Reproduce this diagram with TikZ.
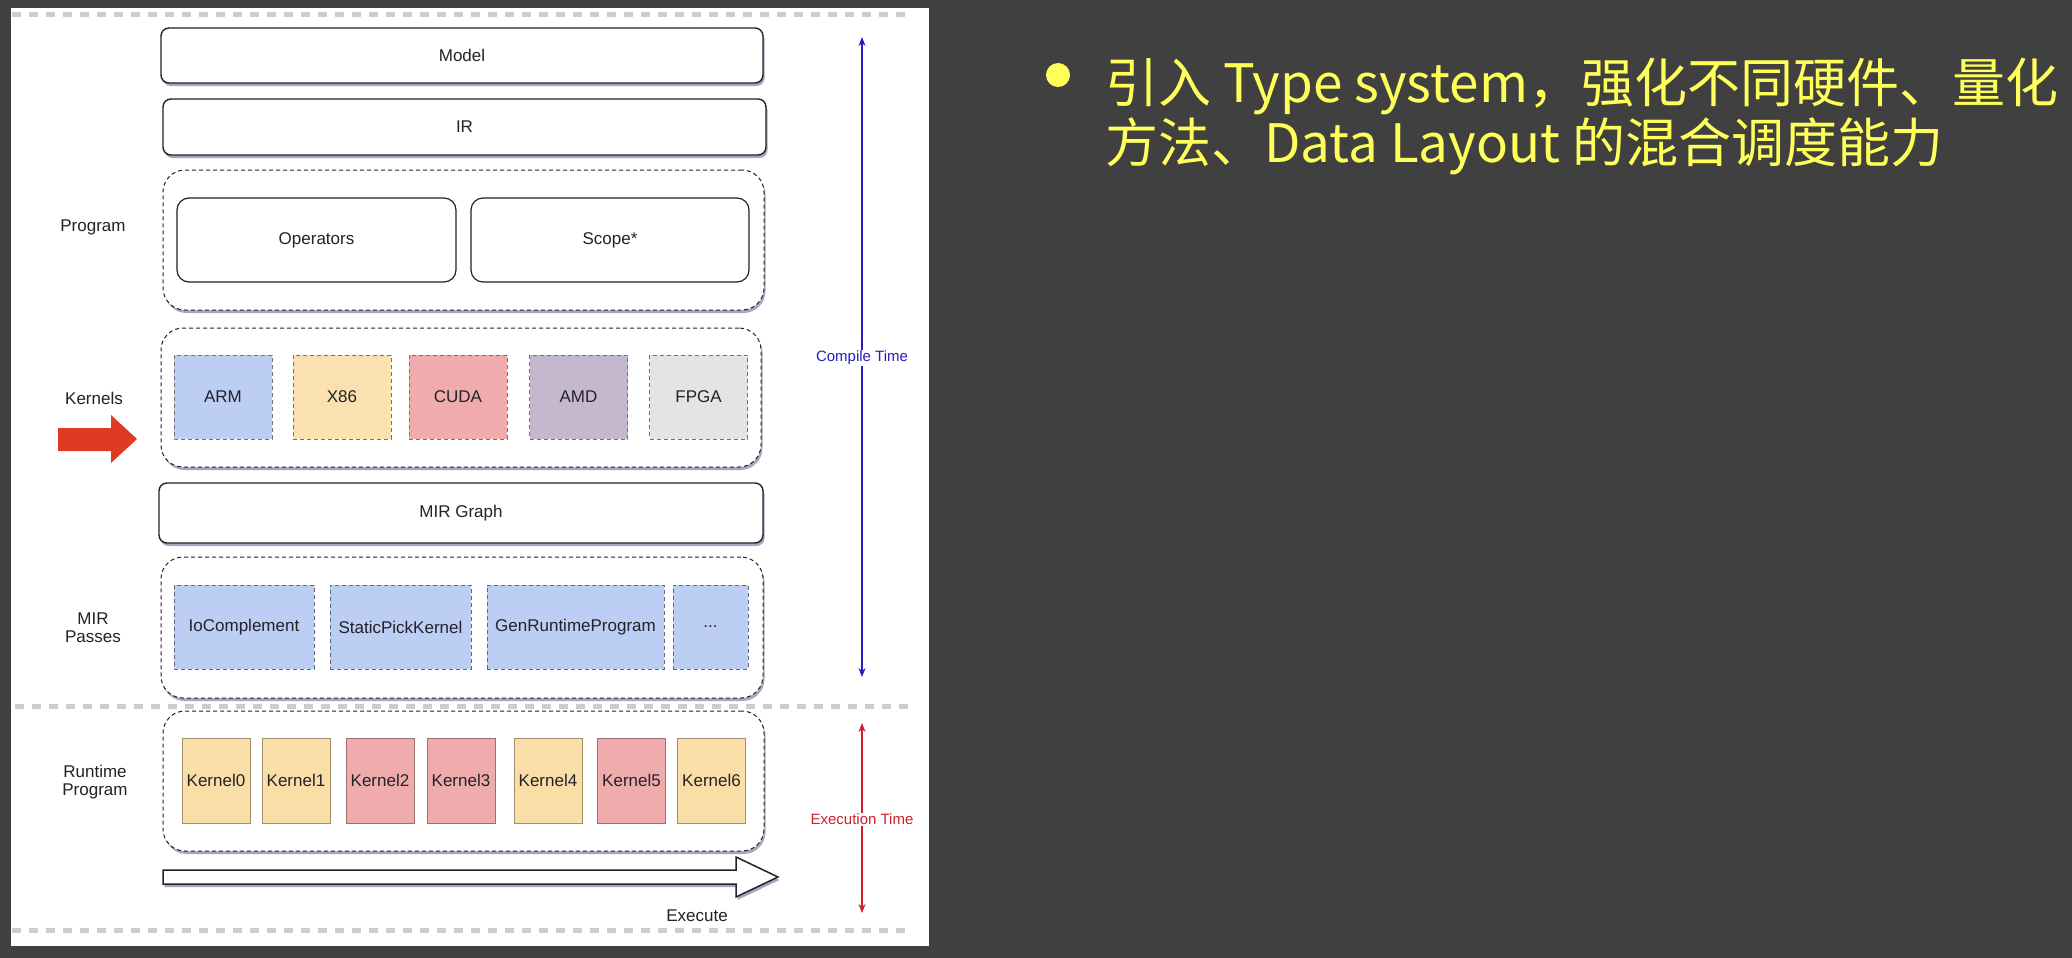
\documentclass[tikz,border=0pt]{standalone}
\usepackage{fontspec}
\setmainfont{Liberation Sans}
\newfontfamily\cjk{Noto Sans CJK SC}
\usetikzlibrary{arrows.meta,shadows,shapes.geometric}
\definecolor{bgdark}{RGB}{64,64,64}
\definecolor{ink}{RGB}{34,34,40}
\definecolor{armc}{RGB}{188,206,243}
\definecolor{x86c}{RGB}{251,224,176}
\definecolor{cudac}{RGB}{240,172,172}
\definecolor{amdc}{RGB}{197,184,206}
\definecolor{fpgac}{RGB}{228,228,228}
\definecolor{kyel}{RGB}{250,222,168}
\definecolor{kred}{RGB}{240,172,172}
\definecolor{sepc}{RGB}{198,210,200}
\definecolor{redarr}{RGB}{222,58,36}
\definecolor{blarr}{RGB}{40,30,190}
\definecolor{rdarr}{RGB}{210,30,40}
\definecolor{yel}{RGB}{255,255,90}
\tikzset{
  lbl/.style={font=\fontsize{17}{20}\selectfont, text=ink, inner sep=0pt, align=center},
  sh/.style={drop shadow={shadow xshift=1.5pt, shadow yshift=-3pt, opacity=0.35, fill=black!70!blue}},
  solidbox/.style={draw=ink, line width=1.4pt, rounded corners=8pt, fill=white, sh,
    minimum width=#1, minimum height=56pt, inner sep=0pt, outer sep=0pt,
    font=\fontsize{17}{20}\selectfont, text=ink},
  innerbox/.style={draw=ink, line width=1.2pt, rounded corners=12pt, fill=white,
    minimum width=#1, minimum height=84pt, inner sep=0pt, outer sep=0pt,
    font=\fontsize{17}{20}\selectfont, text=ink},
  cont/.style={draw=ink, line width=1pt, dash pattern=on 4pt off 3pt, rounded corners=22pt,
    fill=white, sh, minimum width=601pt, minimum height=140pt, inner sep=0pt, outer sep=0pt},
  hw/.style={draw=black!55, line width=0.9pt, dash pattern=on 4pt off 3pt, fill=#1,
    minimum width=98pt, minimum height=84pt, inner sep=0pt, outer sep=0pt,
    font=\fontsize{17}{20}\selectfont, text=ink},
  pass/.style={draw=black!50!armc, line width=0.9pt, dash pattern=on 4pt off 3pt, fill=armc,
    minimum width=#1, minimum height=84pt, inner sep=0pt, outer sep=0pt,
    font=\fontsize{17}{20}\selectfont, text=ink},
  kern/.style={draw=#1!65!black, line width=1pt, fill=#1,
    minimum width=68pt, minimum height=85pt, inner sep=0pt, outer sep=0pt,
    font=\fontsize{17}{20}\selectfont, text=ink},
  sepline/.style={draw=sepc, line width=5pt, dash pattern=on 9pt off 8pt},
  timelbl/.style={font=\fontsize{15}{18}\selectfont, fill=white, inner sep=1pt},
  bigtxt/.style={anchor=base west, inner sep=0pt, text=yel, font=\cjk\fontsize{53}{60}\selectfont}
}
\begin{document}
\begin{tikzpicture}[x=1pt,y=-1pt]
\useasboundingbox (0,0) rectangle (2072,958);
\fill[bgdark] (0,0) rectangle (2072,958);
\fill[white] (11,8) rectangle (929,946);
% separator lines
\draw[sepline] (12,15) -- (905,15);
\draw[sepline] (15,706) -- (911,706);
\draw[sepline] (12,930) -- (905,930);
% top boxes
\node[solidbox=602pt, minimum height=55pt] (model) at (462,55.5) {Model};
\node[solidbox=603pt] (ir) at (464.5,127) {IR};
% program
\node[cont] (progc) at (463.5,240) {};
\node[innerbox=279pt] (ops) at (316.5,240) {Operators};
\node[innerbox=278pt] (scope) at (610,240) {Scope*};
\node[lbl] (proglbl) at (93,227) {Program};
% kernels
\node[cont, minimum width=600pt, minimum height=139pt] (kerc) at (461,397.5) {};
\node[hw=armc] (arm) at (223,397) {ARM};
\node[hw=x86c] (x86) at (342,397) {X86};
\node[hw=cudac] (cuda) at (458,397) {CUDA};
\node[hw=amdc] (amd) at (578.5,397) {AMD};
\node[hw=fpgac] (fpga) at (698.5,397) {FPGA};
\node[lbl] (kerlbl) at (94,398) {Kernels};
\fill[redarr] (58,428) -- (111,428) -- (111,415) -- (137,439) -- (111,463) -- (111,451) -- (58,451) -- cycle;
% MIR graph
\node[solidbox=604pt, minimum height=60pt] (mir) at (461,513) {MIR Graph};
% MIR passes
\node[cont, minimum width=602pt, minimum height=141pt] (passc) at (462,627.5) {};
\node[pass=140pt] (io) at (244,627) {IoComplement};
\node[pass=141pt] (spk) at (400.5,627) {StaticPickKernel};
\node[pass=177pt] (grp) at (575.5,627) {GenRuntimeProgram};
\node[pass=75pt] (dots) at (710.5,627) {...};
\node[lbl] (passlbl) at (93,628) {MIR\\[-2pt]Passes};
% runtime program
\node[cont] (runc) at (463.5,781) {};
\node[kern=kyel] (k0) at (216,780.5) {Kernel0};
\node[kern=kyel] (k1) at (296,780.5) {Kernel1};
\node[kern=kred] (k2) at (380,780.5) {Kernel2};
\node[kern=kred] (k3) at (461,780.5) {Kernel3};
\node[kern=kyel] (k4) at (548,780.5) {Kernel4};
\node[kern=kred] (k5) at (631.5,780.5) {Kernel5};
\node[kern=kyel] (k6) at (711.5,780.5) {Kernel6};
\node[lbl] (runlbl) at (95,782) {Runtime\\[-2pt]Program};
% execute arrow
\filldraw[draw=ink, line width=1.5pt, fill=white, sh] (163,870) -- (736,870) -- (736,857) -- (778,877) -- (736,897) -- (736,884) -- (163,884) -- cycle;
\node[lbl] (exec) at (697,916) {Execute};
% time arrows
\coordinate (ct1) at (862,37);
\coordinate (ct2) at (862,677);
\draw[blarr, line width=1.2pt, {Stealth[length=9pt,width=7pt]}-{Stealth[length=9pt,width=7pt]}] (ct1) -- (ct2);
\node[timelbl, text=blarr] (ctlbl) at (862,358) {Compile Time};
\coordinate (et1) at (862,723);
\coordinate (et2) at (862,913);
\draw[rdarr, line width=1.2pt, {Stealth[length=9pt,width=7pt]}-{Stealth[length=9pt,width=7pt]}] (et1) -- (et2);
\node[timelbl, text=rdarr] (etlbl) at (862,819) {Execution Time};
% right text
\fill[yel] (1058,75) circle (12pt);
\node[bigtxt] (l1) at (1105,102) {引入 Type system，强化不同硬件、量化};
\node[bigtxt] (l2) at (1105,162) {方法、Data Layout 的混合调度能力};
\end{tikzpicture}
\end{document}
